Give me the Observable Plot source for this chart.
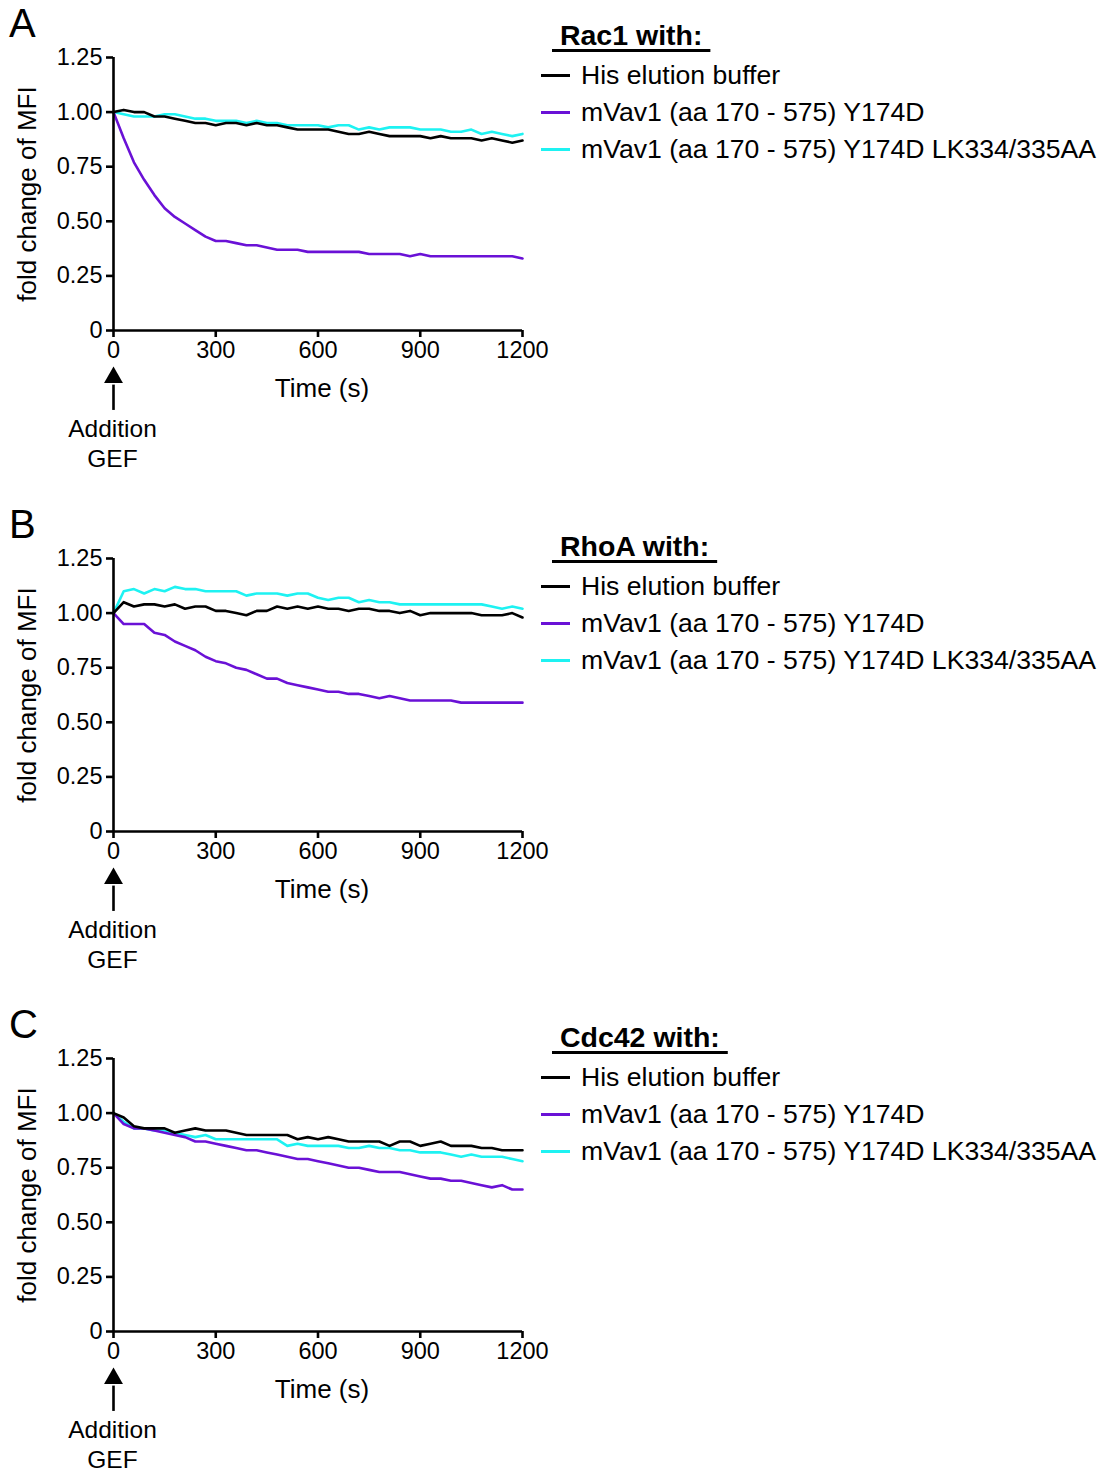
<!DOCTYPE html>
<html><head><meta charset="utf-8">
<script src="https://cdn.jsdelivr.net/npm/d3@7"></script>
<script src="https://cdn.jsdelivr.net/npm/@observablehq/plot@0.6"></script>
<style>
body{margin:0;background:#fff;font-family:"Liberation Sans",Arial,sans-serif;color:#000}
#root{position:relative;width:1103px;height:1472px;overflow:hidden}
.panel{position:absolute;left:0;width:1103px;height:470px}
.panel svg{position:absolute;left:0;top:0;overflow:visible}
.letter{position:absolute;left:9px;top:0px;font-size:40px;line-height:46px}
.ltitle{position:absolute;left:552px;font-size:28.5px;font-weight:bold;line-height:30px;text-decoration:underline;text-decoration-thickness:2.5px;text-underline-offset:4px;white-space:pre}
.litem{position:absolute;left:541px;height:30px;line-height:30px;font-size:26.6px;white-space:nowrap}
.litem .sw{position:absolute;left:0;top:14px;width:29px;height:2.6px}
.litem .lb{position:absolute;left:40px;top:0}
</style></head>
<body><div id="root"></div>
<script>
const time = [0,30,60,90,120,150,180,210,240,270,300,330,360,390,420,450,480,510,540,570,600,630,660,690,720,750,780,810,840,870,900,930,960,990,1020,1050,1080,1110,1140,1170,1200];
const seriesNames = ["His elution buffer","mVav1 (aa 170 - 575) Y174D","mVav1 (aa 170 - 575) Y174D LK334/335AA"];
const seriesColors = ["#000000","#6a11d6","#1ef2f2"];
const panelLetters = ["A","B","C"];
const panelTitles = ["Rac1 with:","RhoA with:","Cdc42 with:"];
const yTicks = [0,0.25,0.5,0.75,1,1.25];
const xTicks = [0,300,600,900,1200];
const annotationLabel = "Addition\nGEF";

// Panel A (Rac1)
const hisA = [1.00,1.01,1.00,1.00,0.98,0.98,0.97,0.96,0.95,0.95,0.94,0.95,0.95,0.94,0.95,0.94,0.94,0.93,0.92,0.92,0.92,0.92,0.91,0.90,0.90,0.91,0.90,0.89,0.89,0.89,0.89,0.88,0.89,0.88,0.88,0.88,0.87,0.88,0.87,0.86,0.87];
const y174dA = [1.00,0.88,0.77,0.69,0.62,0.56,0.52,0.49,0.46,0.43,0.41,0.41,0.40,0.39,0.39,0.38,0.37,0.37,0.37,0.36,0.36,0.36,0.36,0.36,0.36,0.35,0.35,0.35,0.35,0.34,0.35,0.34,0.34,0.34,0.34,0.34,0.34,0.34,0.34,0.34,0.33];
const lkA = [1.00,0.99,0.98,0.98,0.98,0.99,0.99,0.98,0.97,0.97,0.96,0.96,0.96,0.95,0.96,0.95,0.95,0.94,0.94,0.94,0.94,0.93,0.94,0.94,0.92,0.93,0.92,0.93,0.93,0.93,0.92,0.92,0.92,0.91,0.91,0.92,0.90,0.91,0.90,0.89,0.90];
// Panel B (RhoA)
const hisB = [1.00,1.05,1.03,1.04,1.04,1.03,1.04,1.02,1.03,1.03,1.01,1.01,1.00,0.99,1.01,1.01,1.03,1.02,1.03,1.02,1.03,1.02,1.02,1.01,1.02,1.02,1.01,1.01,1.00,1.01,0.99,1.00,1.00,1.00,1.00,1.00,0.99,0.99,0.99,1.00,0.98];
const y174dB = [1.00,0.95,0.95,0.95,0.91,0.90,0.87,0.85,0.83,0.80,0.78,0.77,0.75,0.74,0.72,0.70,0.70,0.68,0.67,0.66,0.65,0.64,0.64,0.63,0.63,0.62,0.61,0.62,0.61,0.60,0.60,0.60,0.60,0.60,0.59,0.59,0.59,0.59,0.59,0.59,0.59];
const lkB = [1.00,1.10,1.11,1.09,1.11,1.10,1.12,1.11,1.11,1.10,1.10,1.10,1.10,1.08,1.09,1.09,1.09,1.08,1.09,1.09,1.07,1.06,1.07,1.07,1.05,1.06,1.05,1.05,1.04,1.04,1.04,1.04,1.04,1.04,1.04,1.04,1.04,1.03,1.02,1.03,1.02];
// Panel C (Cdc42)
const hisC = [1.00,0.98,0.94,0.93,0.93,0.93,0.91,0.92,0.93,0.92,0.92,0.92,0.91,0.90,0.90,0.90,0.90,0.90,0.88,0.89,0.88,0.89,0.88,0.87,0.87,0.87,0.87,0.85,0.87,0.87,0.85,0.86,0.87,0.85,0.85,0.85,0.84,0.84,0.83,0.83,0.83];
const y174dC = [1.00,0.95,0.93,0.93,0.92,0.91,0.90,0.89,0.87,0.87,0.86,0.85,0.84,0.83,0.83,0.82,0.81,0.80,0.79,0.79,0.78,0.77,0.76,0.75,0.75,0.74,0.73,0.73,0.73,0.72,0.71,0.70,0.70,0.69,0.69,0.68,0.67,0.66,0.67,0.65,0.65];
const lkC = [1.00,0.96,0.93,0.93,0.92,0.92,0.91,0.90,0.89,0.90,0.88,0.88,0.88,0.88,0.88,0.88,0.88,0.85,0.86,0.85,0.85,0.85,0.85,0.84,0.84,0.85,0.84,0.84,0.83,0.83,0.82,0.82,0.82,0.81,0.80,0.81,0.80,0.80,0.80,0.79,0.78];

const panelSeries = [[hisA,y174dA,lkA],[hisB,y174dB,lkB],[hisC,y174dC,lkC]];
const panelTops = [0,501,1001];
const legendTops = [20,30,21];

const font = '"Liberation Sans", Arial, sans-serif';
const root = document.getElementById("root");

panelSeries.forEach((series, p) => {
  const rows = [];
  [2,1,0].forEach(i => series[i].forEach((v, j) => rows.push({t: time[j], v, s: seriesNames[i]})));
  const div = document.createElement("div");
  div.className = "panel";
  div.style.top = panelTops[p] + "px";
  const chart = Plot.plot({
    width: 540, height: 470,
    marginLeft: 113, marginRight: 18, marginTop: 57, marginBottom: 140,
    style: {fontFamily: font, color: "#000", background: "transparent", overflow: "visible"},
    x: {domain: [0, 1200]},
    y: {domain: [0, 1.25]},
    color: {domain: seriesNames, range: seriesColors},
    marks: [
      Plot.line(rows, {x: "t", y: "v", z: "s", stroke: "s", strokeWidth: 2.6, strokeLinejoin: "round"}),
      Plot.ruleX([0], {y1: 0, y2: 1.25, strokeWidth: 2.6}),
      Plot.ruleY([0], {x1: 0, x2: 1200, strokeWidth: 2.6}),
      Plot.axisY(yTicks, {tickSize: 7, tickPadding: 4, strokeWidth: 2.6, fontSize: 23.5, tickFormat: d => d === 0 ? "0" : d.toFixed(2), label: null}),
      Plot.axisX(xTicks, {tickSize: 7, tickPadding: 4, strokeWidth: 2.6, fontSize: 23.5, tickFormat: d => String(d), label: null}),
      Plot.text(["fold change of MFI"], {frameAnchor: "left", textAnchor: "middle", rotate: -90, dx: -86, fontSize: 26}),
      Plot.text(["Time (s)"], {frameAnchor: "bottom", dx: 4, dy: 66, fontSize: 26}),
      Plot.ruleX([0], {y1: -0.25, y2: -0.366, strokeWidth: 2.6}),
      Plot.dot([0], {x: d => d, y: -0.215, symbol: "triangle", r: 7, fill: "#000", stroke: "none"}),
      Plot.text([annotationLabel], {x: 0, y: 0, dy: 112, dx: -1, fontSize: 24.5, lineHeight: 1.2})
    ]
  });
  div.appendChild(chart);
  const letter = document.createElement("div");
  letter.className = "letter";
  letter.textContent = panelLetters[p];
  div.appendChild(letter);
  const title = document.createElement("div");
  title.className = "ltitle";
  title.style.top = legendTops[p] + "px";
  title.textContent = "\u00a0" + panelTitles[p] + "\u00a0";
  div.appendChild(title);
  seriesNames.forEach((n, i) => {
    const item = document.createElement("div");
    item.className = "litem";
    item.style.top = (legendTops[p] + 40 + i * 37) + "px";
    const sw = document.createElement("div");
    sw.className = "sw"; sw.style.background = seriesColors[i];
    const lb = document.createElement("div");
    lb.className = "lb"; lb.textContent = n;
    item.appendChild(sw); item.appendChild(lb);
    div.appendChild(item);
  });
  root.appendChild(div);
});
</script></body></html>
